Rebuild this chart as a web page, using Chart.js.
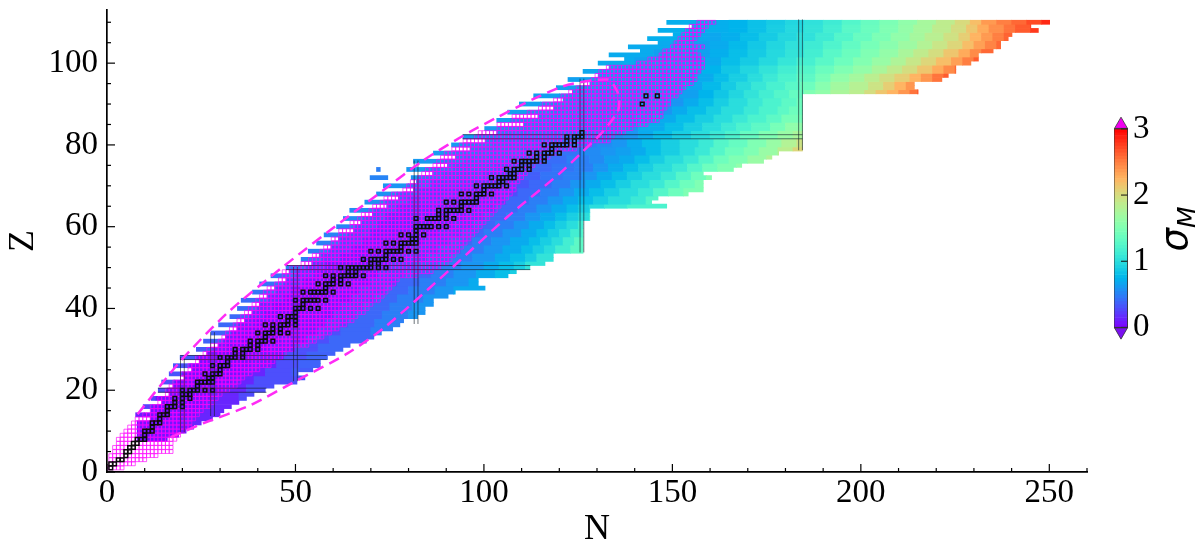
<!DOCTYPE html>
<html>
<head>
<meta charset="utf-8">
<title>sigma M chart</title>
<script src="https://cdn.jsdelivr.net/npm/chart.js@4/dist/chart.umd.min.js"></script>
<style>
  html, body { margin: 0; padding: 0; background: #fff; }
  #wrap { position: relative; width: 1200px; height: 559px; overflow: hidden; }
  #mainChart { position: absolute; left: 0; top: 0; }
  #barChart { position: absolute; left: 1090px; top: 110px; }
  #barLabel {
    position: absolute; left: 1138px; top: 209px; width: 70px; height: 40px; line-height: 40px;
    text-align: center; transform: rotate(-90deg); color: #000;
    font: italic 37px "DejaVu Sans"; white-space: nowrap;
  }
  #barLabel sub { font-size: 25px; line-height: 0; }
</style>
</head>
<body>
<div id="wrap">
  <canvas id="mainChart" width="1200" height="559"></canvas>
  <canvas id="barChart" width="110" height="240"></canvas>
  <div id="barLabel">σ<sub>M</sub></div>
</div>
<script>
// 坐标轴刻度
const xTickLabels = [0, 50, 100, 150, 200, 250];
const yTickLabels = [0, 20, 40, 60, 80, 100];
const xMinorTicks = [10, 20, 30, 40, 60, 70, 80, 90, 110, 120, 130, 140, 160, 170, 180, 190, 210, 220, 230, 240, 260];
const yMinorTicks = [5, 10, 15, 25, 30, 35, 45, 50, 55, 65, 70, 75, 85, 90, 95, 105, 110];
const barTicks = [0, 1, 2, 3];

// 色块每一行的范围 (Z = 8 ... 110)
const rowFirstZ = 8;
const rowFirst = [8, 8, 8, 8, 8, 11.5, 7.6, 11.6, 9.6, 14.5, 11.7, 16.5, 13.6, 17.6, 14.5, 20.5, 16.5, 22.5, 17.6, 24.5,
  19.4, 26.5, 23.7, 29.5, 25.6, 31.4, 27.6, 34.5, 29.6, 36.5, 32.6, 38.5, 34.6, 40.4, 35.6, 42.5, 38.6, 44.5, 40.5, 47.5,
  43.5, 48.3, 47.5, 54.3, 51.5, 56.3, 53.4, 59.4, 55.6, 61.4, 57.6, 65.4, 60.9, 67.3, 62.7, 70.4, 64.4, 74.2, 68.4, 77.3,
  71.5, 81.3, 73.3, 82.1, 80.7, 86.4, 79.5, 90.3, 81.3, 92.4, 86.6, 96.3, 91.4, 100.3, 94.4, 103.4, 100.2, 110.6, 103.4, 114.3,
  106.3, 118.6, 109.4, 121, 113.2, 123.5, 119.2, 128.1, 122.3, 130.3, 126.3, 133.2, 130.3, 137.3, 133.2, 141.5, 138.3, 146.2, 143.4, 150.2,
  146.2, 155.2, 148.5];
const rowLast = [16, 19, 21, 23, 25, 28, 30, 31, 33, 35, 37, 39, 42, 44.3, 50.4, 52.5, 50.7, 54.6, 56.6, 56.6,
  58.5, 60.5, 62.6, 64.5, 68.8, 70.8, 72.8, 75.8, 77.7, 78.7, 82.4, 84.4, 84.4, 86.6, 86.6, 90.5, 92.4, 100.3, 98.5, 98.5,
  106.4, 108.6, 112.2, 116.2, 118.4, 118.4, 126.3, 126.3, 126.3, 126.3, 126.3, 126.3, 126.3, 126.3, 128.1, 128.1, 128.1, 148.5, 144.5, 146.2,
  154.2, 158.2, 158.2, 158.2, 160.4, 158.2, 166.2, 168.4, 174.2, 176.4, 178.2, 184.5, 184.5, 184.5, 184.5, 184.5, 184.5, 184.5, 184.5, 184.5,
  184.5, 184.5, 184.5, 184.5, 184.5, 215.2, 214.2, 214.2, 221.5, 223.2, 225.2, 225.2, 229.2, 231.2, 231.2, 235.1, 237.1, 237.1, 239.1, 240.1,
  247.1, 245.1, 250.1];
// 孤立的小块
const islandZ = [72, 74];
const islandFirst = [69.8, 71.5];
const islandLast = [74.5, 72.5];
const islandSigma = [0.52, 0.5];

// 每两行一组的色带: N起点, sigma, N起点, sigma ...
const bandZ = [8, 10, 12, 14, 16, 18, 20, 22, 24, 26, 28, 30, 32, 34, 36, 38, 40, 42, 44, 46, 48, 50, 52, 54, 56, 58, 60, 62, 64, 66,
  68, 70, 72, 74, 76, 78, 80, 82, 84, 86, 88, 90, 92, 94, 96, 98, 100, 102, 104, 106, 108, 110];
const bandRows = [
  [0, .08],
  [0, .08],
  [0, .08, 20, .14],
  [0, .12, 10, .08, 24, .14],
  [0, .25, 12, .08, 26, .14],
  [0, .28, 13, .08, 28, .14, 35, .28],
  [0, .3, 16, .08, 31, .14, 37, .3],
  [0, .3, 18, .08, 33, .14, 39, .3],
  [0, .32, 20, .08, 36, .14, 42, .3, 49, .35],
  [0, .32, 22, .08, 38, .14, 45, .3, 51, .38],
  [0, .35, 24, .08, 40, .14, 47, .3, 53, .38],
  [0, .35, 28, .14, 32, .08, 43, .14, 50, .3, 56, .4],
  [0, .38, 31, .14, 35, .08, 46, .14, 53, .3, 59, .4],
  [0, .38, 33, .14, 37, .08, 49, .14, 56, .3, 62, .4, 70, .5],
  [0, .4, 35, .16, 39, .09, 51, .14, 58, .3, 64, .4, 71, .5],
  [0, .4, 38, .2, 42, .1, 53, .14, 60, .3, 66, .4, 73, .5, 80, .6],
  [0, .42, 40, .2, 44, .1, 56, .14, 62, .3, 68, .4, 75, .5, 81, .6],
  [0, .42, 43, .2, 47, .1, 58, .14, 65, .3, 71, .4, 77, .5, 84, .6],
  [0, .45, 45, .22, 49, .11, 60, .16, 67, .3, 74, .4, 80, .5, 87, .6, 92, .7],
  [0, .45, 47, .25, 52, .12, 63, .16, 70, .3, 77, .4, 83, .5, 90, .6, 96, .7, 100, .8],
  [0, .45, 50, .25, 55, .14, 66, .16, 72, .3, 79, .4, 86, .5, 92, .6, 98, .7, 103, .8, 107, .9],
  [0, .48, 53, .25, 58, .14, 69, .16, 75, .3, 82, .4, 88, .5, 94, .6, 100, .7, 104, .8, 108, .9, 111, 1.05],
  [0, .5, 57, .28, 62, .16, 72, .18, 78, .28, 85, .4, 91, .5, 97, .6, 103, .7, 107, .8, 111, .9, 114, 1.05],
  [0, .5, 59, .28, 65, .16, 75, .18, 81, .28, 88, .4, 94, .5, 100, .6, 105, .7, 110, .8, 113, .9, 116, 1.0, 119, 1.15, 123, 1.3],
  [0, .5, 62, .3, 68, .18, 78, .18, 84, .28, 91, .4, 97, .5, 102, .6, 107, .7, 112, .8, 115, .9, 118, 1.0, 121, 1.15, 124, 1.3],
  [0, .52, 64, .3, 70, .18, 80, .18, 88, .28, 94, .4, 100, .5, 105, .6, 110, .7, 114, .8, 117, .9, 120, 1.0, 123, 1.15, 126, 1.25],
  [0, .52, 66, .34, 72, .2, 82, .18, 92, .28, 97, .4, 103, .5, 108, .6, 112, .7, 116, .8, 119, .9, 122, 1.0, 125, 1.15],
  [0, .55, 68, .36, 74, .22, 85, .2, 95, .28, 100, .4, 106, .5, 111, .6, 115, .7, 119, .8, 122, .9, 125, 1.0, 128, 1.15],
  [0, .55, 71, .36, 77, .24, 88, .2, 98, .28, 103, .4, 109, .5, 114, .6, 118, .7, 122, .8, 125, .9, 128, 1.0, 132, 1.1, 138, 1.2],
  [0, .58, 74, .4, 80, .28, 91, .24, 101, .3, 106, .4, 112, .5, 117, .6, 121, .7, 125, .8, 129, .9, 133, 1.0, 139, 1.1, 143, 1.25],
  [0, .58, 77, .4, 83, .28, 94, .24, 104, .3, 109, .4, 115, .5, 120, .6, 124, .7, 128, .8, 132, .9, 136, 1.0, 141, 1.1, 145, 1.25, 149, 1.4, 153, 1.5],
  [0, .6, 80, .45, 86, .32, 97, .28, 107, .33, 112, .4, 118, .5, 123, .6, 127, .7, 131, .8, 135, .9, 139, 1.0, 144, 1.1, 148, 1.25, 152, 1.4, 156, 1.5],
  [0, .6, 83, .45, 89, .36, 100, .3, 110, .36, 115, .45, 121, .5, 126, .6, 130, .7, 134, .8, 138, .9, 142, 1.0, 147, 1.1, 151, 1.25, 155, 1.4, 159, 1.55],
  [0, .62, 86, .48, 92, .4, 103, .35, 113, .4, 118, .45, 124, .5, 129, .6, 133, .7, 137, .8, 141, .9, 145, 1.0, 150, 1.1, 154, 1.25, 158, 1.4, 162, 1.5, 167, 1.6],
  [0, .62, 89, .5, 95, .42, 106, .38, 116, .42, 122, .5, 128, .55, 132, .65, 136, .7, 140, .8, 144, .9, 148, 1.0, 153, 1.1, 157, 1.25, 161, 1.4, 165, 1.5, 170, 1.65, 175, 1.8],
  [0, .62, 92, .5, 98, .45, 110, .4, 120, .45, 126, .55, 131, .6, 135, .65, 139, .7, 143, .8, 147, .9, 152, 1.0, 156, 1.1, 160, 1.25, 164, 1.4, 169, 1.5, 173, 1.65, 178, 1.85, 182, 2.05],
  [0, .62, 96, .52, 102, .45, 113, .42, 124, .5, 130, .55, 134, .6, 138, .7, 142, .8, 147, .9, 152, 1.0, 157, 1.1, 161, 1.25, 165, 1.35, 170, 1.5, 175, 1.65, 179, 1.8, 183, 1.95],
  [0, .62, 98, .55, 105, .48, 116, .45, 127, .5, 133, .55, 137, .6, 141, .7, 145, .8, 150, .9, 155, 1.0, 160, 1.1, 164, 1.2, 168, 1.35, 173, 1.5, 178, 1.65, 182, 1.75],
  [0, .62, 104, .55, 110, .5, 120, .48, 130, .52, 136, .58, 141, .7, 148, .8, 153, .9, 158, 1.0, 163, 1.1, 167, 1.2, 171, 1.3, 176, 1.45, 180, 1.6],
  [0, .65, 107, .55, 113, .52, 123, .5, 134, .55, 140, .6, 145, .7, 151, .8, 156, .9, 161, 1.0, 166, 1.1, 170, 1.2, 175, 1.3, 179, 1.45],
  [0, .65, 112, .58, 118, .53, 128, .5, 139, .55, 145, .6, 150, .7, 154, .8, 159, .9, 163, 1.0, 169, 1.1, 173, 1.2, 178, 1.3, 181, 1.4],
  [0, .65, 115, .58, 122, .55, 131, .52, 142, .55, 148, .6, 153, .7, 157, .8, 161, .9, 165, 1.0, 170, 1.1, 174, 1.2, 179, 1.3, 183, 1.4],
  [0, .65, 120, .58, 128, .55, 136, .55, 146, .58, 152, .65, 157, .75, 161, .85, 165, .95, 169, 1.05, 173, 1.15, 177, 1.25, 181, 1.35, 185, 1.5, 188, 1.6, 192, 1.75, 197, 1.85, 201, 2.0, 204, 2.15, 207, 2.25, 210, 2.4, 213, 2.55, 215, 2.65],
  [0, .65, 125, .6, 133, .58, 146, .6, 153, .68, 158, .78, 163, .88, 167, .98, 171, 1.08, 175, 1.18, 180, 1.28, 184, 1.4, 188, 1.55, 192, 1.7, 197, 1.82, 202, 1.95, 206, 2.1, 209, 2.25, 212, 2.4, 215, 2.55],
  [0, .65, 130, .62, 138, .6, 150, .62, 156, .7, 161, .8, 165, .9, 170, 1.0, 174, 1.1, 178, 1.2, 183, 1.3, 188, 1.45, 192, 1.6, 197, 1.72, 201, 1.85, 205, 1.98, 209, 2.1, 213, 2.25, 216, 2.4, 219, 2.55, 222, 2.65],
  [0, .68, 135, .62, 145, .62, 153, .68, 158, .75, 163, .85, 168, .95, 173, 1.05, 178, 1.15, 183, 1.25, 188, 1.38, 193, 1.5, 198, 1.62, 203, 1.75, 207, 1.88, 211, 2.0, 215, 2.15, 219, 2.3, 222, 2.45, 225, 2.6],
  [0, .7, 140, .65, 150, .62, 158, .7, 163, .8, 168, .88, 173, .97, 178, 1.07, 183, 1.17, 188, 1.28, 193, 1.4, 198, 1.52, 203, 1.65, 208, 1.78, 212, 1.92, 216, 2.05, 220, 2.2, 224, 2.35, 227, 2.5, 230, 2.65],
  [0, .7, 145, .65, 155, .65, 160, .72, 165, .8, 170, .88, 175, .97, 180, 1.05, 185, 1.15, 190, 1.28, 195, 1.38, 200, 1.5, 205, 1.62, 210, 1.75, 214, 1.88, 218, 2.0, 222, 2.15, 226, 2.3, 229, 2.45, 232, 2.6],
  [0, .7, 150, .65, 160, .7, 165, .78, 170, .86, 175, .95, 180, 1.03, 185, 1.12, 190, 1.22, 195, 1.33, 200, 1.45, 205, 1.56, 210, 1.68, 215, 1.8, 219, 1.93, 223, 2.05, 227, 2.2, 230, 2.35, 233, 2.48, 236, 2.6],
  [0, .72, 155, .68, 163, .72, 168, .8, 173, .88, 178, .96, 183, 1.03, 188, 1.12, 193, 1.24, 198, 1.36, 203, 1.48, 208, 1.6, 213, 1.72, 217, 1.84, 222, 1.97, 226, 2.1, 229, 2.25, 232, 2.38, 235, 2.5, 238, 2.62, 241, 2.72, 245, 2.8],
  [0, .72, 165, .75, 170, .82, 175, .9, 180, .97, 185, 1.05, 190, 1.15, 195, 1.28, 200, 1.38, 205, 1.5, 210, 1.62, 214, 1.73, 219, 1.87, 224, 2.0, 228, 2.15, 231, 2.3, 234, 2.43, 238, 2.55, 241, 2.65, 245, 2.78],
  [0, .72, 165, .75, 170, .82, 175, .88, 180, .95, 185, 1.03, 190, 1.12, 195, 1.24, 200, 1.36, 205, 1.48, 210, 1.6, 215, 1.73, 220, 1.87, 225, 2.02, 229, 2.2, 232, 2.38, 236, 2.5, 240, 2.6, 244, 2.72, 248, 2.85]
];

// 粉色方格: 每个Z的N范围 (Z = 1 ... 110)
const meshFirst = [0, 1, 1, 1, 2, 2, 3, 3, 4, 5, 6, 7, 8, 10, 12, 12, 14, 14, 16, 16, 17, 18, 20, 20, 22, 22, 24, 24, 26, 27,
  28, 30, 31, 32, 33, 34, 35, 36, 37, 38, 39, 40, 41, 42, 43, 45, 46, 47, 47, 49, 52, 54, 55, 57, 58, 60, 60, 62, 62, 65,
  65, 67, 68, 70, 71, 73, 74, 76, 79, 80, 81, 83, 84, 85, 87, 88, 89, 90, 92, 94, 95, 98, 99, 104, 104, 108, 108, 112, 115, 116,
  119, 121, 123, 125, 127, 129, 130, 131, 133, 141, 144, 147, 148, 150, 151, 152, 153, 154, 155, 157];
const meshLast = [4, 7, 10, 13, 17, 17, 17, 18, 19, 20, 22, 22, 23, 24, 25, 27, 28, 29, 30, 32, 34, 35, 36, 38, 40, 43, 44, 46, 47, 49,
  53, 55, 57, 59, 61, 63, 65, 66, 68, 69, 70, 72, 73, 74, 75, 76, 77, 82, 86, 88, 90, 91, 92, 93, 94, 95, 96, 97, 98, 99,
  100, 101, 102, 103, 104, 105, 106, 107, 108, 108, 109, 110, 111, 112, 113, 115, 117, 119, 124, 128, 133, 134, 137, 139, 143, 146, 147, 147, 148, 149,
  149, 151, 152, 153, 155, 156, 156, 157, 158, 158, 158, 157, 156, 158, 155, 156, 157, 158, 159, 161];

// 黑色方格
const stableZ = [1, 2, 3, 4, 5, 6, 7, 8, 9, 10, 11, 12, 13, 14, 15, 16, 17, 18, 19, 20, 21, 22, 23, 24, 25, 26, 27, 28, 29, 30,
  31, 32, 33, 34, 35, 36, 37, 38, 39, 40, 41, 42, 44, 45, 46, 47, 48, 49, 50, 51, 52, 53, 54, 55, 56, 57, 58, 59, 60, 62,
  63, 64, 65, 66, 67, 68, 69, 70, 71, 72, 73, 74, 75, 76, 77, 78, 79, 80, 81, 82, 83, 90, 92];
const stableN = [[1], [1, 2], [3, 4], [5], [5, 6], [6, 7], [7, 8], [8, 9, 10], [10], [10, 11, 12], [12], [12, 13, 14], [14], [14, 15, 16], [16],
  [16, 17, 18, 20], [18, 20], [18, 20, 22], [20, 21, 22], [20, 22, 23, 24, 26, 28], [24], [24, 25, 26, 27, 28], [27, 28], [26, 28, 29, 30], [30],
  [28, 30, 31, 32], [32], [30, 32, 33, 34, 36], [34, 36], [34, 36, 37, 38, 40], [38, 40], [38, 40, 41, 42, 44], [42], [40, 42, 43, 44, 46, 48],
  [44, 46], [42, 44, 46, 47, 48, 50], [48, 50], [46, 48, 49, 50], [50], [50, 51, 52, 54, 56], [52], [50, 52, 53, 54, 55, 56, 58],
  [52, 54, 55, 56, 57, 58, 60], [58], [56, 58, 59, 60, 62, 64], [60, 62], [58, 60, 62, 63, 64, 65, 66, 68], [64, 66],
  [62, 64, 65, 66, 67, 68, 69, 70, 72, 74], [70, 72], [68, 70, 71, 72, 73, 74, 76, 78], [74], [70, 72, 74, 75, 76, 77, 78, 80, 82], [78],
  [74, 76, 78, 79, 80, 81, 82], [81, 82], [78, 80, 82, 84], [82], [82, 83, 84, 85, 86, 88, 90], [82, 85, 86, 87, 88, 90, 92], [88, 90],
  [88, 90, 91, 92, 93, 94, 96], [94], [90, 92, 94, 95, 96, 97, 98], [98], [94, 96, 98, 99, 100, 102], [100], [98, 100, 101, 102, 103, 104, 106],
  [104, 105], [102, 104, 105, 106, 107, 108], [107, 108], [106, 108, 109, 110, 112], [110, 112], [108, 110, 111, 112, 113, 114, 116], [114, 116],
  [112, 114, 116, 117, 118, 120], [118], [116, 118, 119, 120, 121, 122, 124], [122, 124], [122, 124, 125, 126], [126], [142], [143, 146]];

// 幻数线
const magicN = [20, 28, 50, 82, 126, 184];
const magicNFrom = [9.7, 13.7, 22.2, 36.2, 53.7, 78.7];
const magicNTo = [28.2, 34.2, 50.2, 76.2, 96.2, 110.7];
const magicZ = [20, 28, 50, 82];
const magicZFrom = [13.5, 19.4, 47.5, 94.4];
const magicZTo = [42.3, 58.3, 112.3, 184.5];

// 虚线边界
const dashN = [16.9, 25.5, 37.9, 50.4, 63.8, 73.7, 91.7, 106.1, 120.2, 126, 131.5, 135.5, 135.9, 135.3, 133, 120.2, 97.1, 83.9, 73.3, 62.7, 46.7, 31.8, 19.3, 7.9];
const dashZ = [8.5, 11.9, 16.3, 22.4, 29, 35.4, 50.1, 62.3, 73.1, 78.2, 83.2, 88.2, 90.9, 93.2, 96, 94.1, 83.6, 76.2, 68.9, 61.6, 50.2, 38.8, 26.9, 13.9];

// matplotlib rainbow 色表
function sigmaColor(s) {
    const t = Math.min(Math.max(s / 3, 0), 1);
    const r = Math.min(Math.abs(2 * t - 0.5), 1);
    const g = Math.sin(Math.PI * t);
    const b = Math.cos(Math.PI * t / 2);
    return `rgb(${Math.round(r * 255)},${Math.round(g * 255)},${Math.round(b * 255)})`;
}

// 组装色块
const heatData = [];
const heatColors = [];
rowFirst.forEach((first, i) => {
    const z = rowFirstZ + i;
    const last = rowLast[i];
    const runs = bandRows[bandZ.indexOf(z - (z % 2))];
    for (let k = 0; k < runs.length; k += 2) {
        const from = Math.max(first, runs[k]);
        const to = k + 2 < runs.length ? Math.min(last, runs[k + 2]) : last;
        if (from >= to) continue;
        heatData.push({ y: z, x: [from, to] });
        heatColors.push(sigmaColor(runs[k + 1]));
    }
});
islandZ.forEach((z, i) => {
    heatData.push({ y: z, x: [islandFirst[i], islandLast[i]] });
    heatColors.push(sigmaColor(islandSigma[i]));
});

const meshData = [];
meshFirst.forEach((first, i) => {
    for (let n = first; n <= meshLast[i]; n++) meshData.push({ x: n, y: i + 1 });
});

const stableData = [];
stableZ.forEach((z, i) => stableN[i].forEach(n => stableData.push({ x: n, y: z })));

const magicSets = [];
function addMagic(points) {
    magicSets.push({
        type: 'line', data: points, borderColor: 'rgba(20,30,40,0.62)', borderWidth: 1,
        pointRadius: 0, fill: false, order: 2, tension: 0
    });
}
magicN.forEach((n, i) => {
    [n - 0.5, n + 0.5].forEach(x => addMagic([{ x, y: magicNFrom[i] }, { x, y: magicNTo[i] }]));
});
magicZ.forEach((z, i) => {
    [z - 0.5, z + 0.5].forEach(y => addMagic([{ x: magicZFrom[i], y }, { x: magicZTo[i], y }]));
});

// 内向刻度
const innerTicks = {
    id: 'innerTicks',
    afterDatasetsDraw(chart) {
        const { ctx, scales: { x, y } } = chart;
        ctx.save();
        ctx.strokeStyle = '#000';
        ctx.lineWidth = 1.2;
        const line = (x1, y1, x2, y2) => { ctx.beginPath(); ctx.moveTo(x1, y1); ctx.lineTo(x2, y2); ctx.stroke(); };
        xTickLabels.forEach(v => line(x.getPixelForValue(v), y.bottom, x.getPixelForValue(v), y.bottom - 8));
        xMinorTicks.forEach(v => line(x.getPixelForValue(v), y.bottom, x.getPixelForValue(v), y.bottom - 4));
        yTickLabels.forEach(v => line(x.left, y.getPixelForValue(v), x.left + 8, y.getPixelForValue(v)));
        yMinorTicks.forEach(v => line(x.left, y.getPixelForValue(v), x.left + 4, y.getPixelForValue(v)));
        ctx.restore();
    }
};

// 去掉刻度文字带来的额外留白
function noScalePadding(scale) {
    scale.paddingTop = 0;
    scale.paddingBottom = 0;
    scale.paddingLeft = 0;
    scale.paddingRight = 0;
}

const serif = 'Liberation Serif';

new Chart(document.getElementById('mainChart'), {
    type: 'scatter',
    data: {
        datasets: [
            { type: 'line', data: dashN.map((n, i) => ({ x: n, y: dashZ[i] })), borderColor: '#ff2cf5', borderWidth: 2.5, borderDash: [11, 6.5], pointRadius: 0, tension: 0.25, fill: false, order: 1 },
            ...magicSets,
            { type: 'scatter', data: stableData, pointStyle: 'rect', pointRadius: 2.6, pointBorderWidth: 1.5, pointBorderColor: '#0c0c0c', pointBackgroundColor: 'rgba(0,0,0,0)', order: 3 },
            { type: 'scatter', data: meshData, pointStyle: 'rect', pointRadius: 2.7, pointBorderWidth: 1, pointBorderColor: 'rgba(255,0,255,0.66)', pointBackgroundColor: 'rgba(0,0,0,0)', order: 4 },
            { type: 'bar', indexAxis: 'y', grouped: false, data: heatData, backgroundColor: heatColors, barThickness: 4.09, inflateAmount: 0.33, borderWidth: 0, order: 5 }
        ]
    },
    options: {
        responsive: false,
        animation: false,
        layout: { padding: { top: 10, right: 113, left: 0, bottom: 0 } },
        plugins: { legend: { display: false }, tooltip: { enabled: false } },
        scales: {
            x: {
                type: 'linear', min: 0, max: 260, offset: false,
                afterBuildTicks(scale) { scale.ticks = xTickLabels.map(value => ({ value })); },
                afterFit(scale) { scale.height = 87; noScalePadding(scale); },
                grid: { drawOnChartArea: false, drawTicks: false, offset: false },
                border: { color: '#000', width: 1.7 },
                ticks: { color: '#000', font: { family: serif, size: 33 }, padding: 2, maxRotation: 0, autoSkip: false },
                title: { display: true, text: 'N', color: '#000', font: { family: serif, size: 36 }, padding: 8 }
            },
            y: {
                type: 'linear', min: 0, max: 113, offset: false,
                afterBuildTicks(scale) { scale.ticks = yTickLabels.map(value => ({ value })); },
                afterFit(scale) { scale.width = 107; noScalePadding(scale); },
                grid: { drawOnChartArea: false, drawTicks: false, offset: false },
                border: { color: '#000', width: 1.7 },
                ticks: { color: '#000', font: { family: serif, size: 33 }, padding: 9, autoSkip: false },
                title: { display: true, text: 'Z', color: '#000', font: { family: serif, size: 36 }, padding: 2 }
            }
        }
    },
    plugins: [innerTicks]
});

// 色条
const barSteps = [];
for (let i = 0; i < 60; i++) barSteps.push(i / 20);

new Chart(document.getElementById('barChart'), {
    type: 'scatter',
    data: {
        datasets: [
            { type: 'line', data: [{ x: 0, y: 0 }, { x: 0, y: 3 }, { x: 1, y: 3 }, { x: 1, y: 0 }, { x: 0, y: 0 }], borderColor: '#333', borderWidth: 1, pointRadius: 0, order: 1 },
            ...barTicks.map(v => ({ type: 'line', data: [{ x: 0.5, y: v }, { x: 1, y: v }], borderColor: '#111', borderWidth: 1, pointRadius: 0, order: 1 })),
            { type: 'scatter', data: [{ x: 0.5, y: 3.064 }], pointStyle: 'triangle', pointRadius: 7.5, pointBackgroundColor: '#f000f0', pointBorderColor: '#333', pointBorderWidth: 0.8, clip: false, order: 2 },
            { type: 'scatter', data: [{ x: 0.5, y: -0.064 }], pointStyle: 'triangle', rotation: 180, pointRotation: 180, pointRadius: 7.5, pointBackgroundColor: '#7a10f0', pointBorderColor: '#333', pointBorderWidth: 0.8, clip: false, order: 2 },
            { type: 'bar', data: barSteps.map(v => ({ x: 0.5, y: [v, v + 0.05] })), backgroundColor: barSteps.map(v => sigmaColor(v + 0.025)), barThickness: 14, inflateAmount: 0.33, grouped: false, order: 3 }
        ]
    },
    options: {
        responsive: false,
        animation: false,
        layout: { padding: { top: 8, bottom: 12, left: 24, right: 0 } },
        plugins: { legend: { display: false }, tooltip: { enabled: false } },
        scales: {
            x: { type: 'linear', min: 0, max: 1, display: false, offset: false },
            y: {
                type: 'linear', position: 'right', min: -0.16, max: 3.16, offset: false,
                afterBuildTicks(scale) { scale.ticks = barTicks.map(value => ({ value })); },
                afterFit(scale) { scale.width = 72; noScalePadding(scale); },
                grid: { display: false, drawTicks: false },
                border: { display: false },
                ticks: { color: '#000', font: { family: serif, size: 33 }, padding: 5, autoSkip: false }
            }
        }
    }
});
</script>
</body>
</html>
